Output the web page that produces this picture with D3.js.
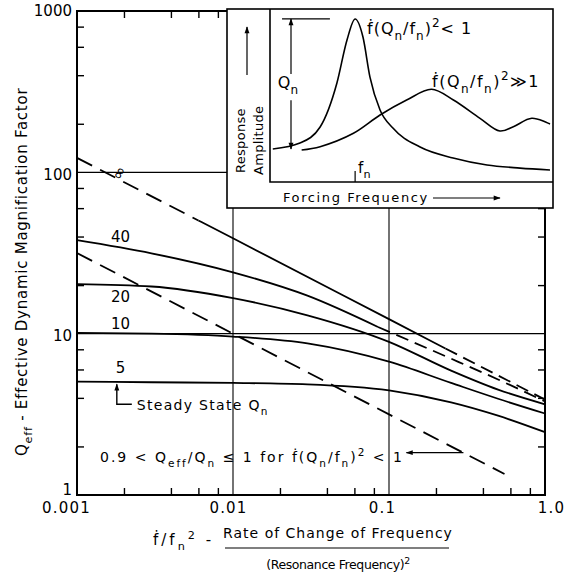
<!DOCTYPE html>
<html>
<head>
<meta charset="utf-8">
<script src="https://cdn.jsdelivr.net/npm/d3@7"></script>
<style>
  body { margin: 0; background: #fff; }
  svg { display: block; }
  text { font-family: "DejaVu Sans", sans-serif; fill: #000; }
</style>
</head>
<body>
<svg id="chart" width="565" height="586"></svg>
<script>
// ---- Data ----------------------------------------------------------------
// Sweep rate f'/fn^2 sample points and effective Q
const sweepRates = [0.001, 0.003, 0.01, 0.03, 0.1, 0.25, 0.5, 1.0];
const qeffQn5  = [5.05, 5.0, 4.95, 4.85, 4.45, 3.75, 3.1, 2.45];
const qeffQn10 = [10.1, 10.0, 9.6, 8.7, 6.7, 4.95, 3.95, 3.2];
const qeffQn20 = [20.3, 19.6, 16.6, 13.0, 8.9, 5.9, 4.5, 3.65];
// Qn = 40: solid portion, then the dashed extension toward the asymptote
const qn40SolidRates = [0.001, 0.003, 0.01, 0.03, 0.085];
const qeffQn40Solid  = [38.0, 31.5, 24.0, 17.2, 11.0];
const qn40DashRates  = [0.085, 0.25, 0.5, 1.0];
const qeffQn40Dash   = [11.0, 7.0, 5.2, 3.8];
const curveLabels = ["5", "10", "20", "40"];

// Infinite-Q asymptote: dashed / solid / dashed pieces
const infDashLeftRates  = [0.001, 0.006];
const infDashLeftQeff   = [123, 50.3];
const infSolidRates     = [0.006, 0.01, 0.1, 0.23];
const infSolidQeff      = [50.3, 39, 12.3, 8.1];
const infDashRightRates = [0.23, 1.0];
const infDashRightQeff  = [8.1, 3.9];

// f'(Qn/fn)^2 = 1 boundary
const boundRates = [0.001, 0.01, 0.1, 0.55];
const boundQeff  = [31.6, 10.0, 3.16, 1.35];

// Axis ticks
const xMajorTicks = [0.001, 0.01, 0.1, 1.0];
const xMajorLabels = ["0.001", "0.01", "0.1", "1.0"];
const xMinorTicks = [0.002, 0.004, 0.006, 0.008, 0.02, 0.04, 0.06, 0.08, 0.2, 0.4, 0.6, 0.8];
const yMajorTicks = [1, 10, 100, 1000];
const yMajorLabels = ["1", "10", "100", "1000"];
const yMinorTicks = [2, 4, 6, 8, 20, 40, 60, 80, 200, 400, 600, 800];

// Inset sketch: response amplitude vs forcing frequency (relative units)
const slowSweepFreq = [1, 10.7, 17.9, 23.9, 27.5, 30.4, 33.2, 35.7, 39.3, 43.9, 53.6, 65.4, 77.5, 89.3, 100];
const slowSweepAmp  = [19, 22.4, 31.6, 56.9, 81.6, 93.7, 83.3, 60.3, 41.4, 31, 20.1, 13.8, 9.8, 8, 6.9];
const fastSweepFreq = [11.3, 17.9, 29.8, 39.3, 48.8, 57.7, 65.5, 75, 82.1, 86.9, 93.5, 100];
const fastSweepAmp  = [18.4, 20.3, 28, 38.5, 47.1, 53.3, 47.1, 36.6, 29.3, 31.8, 36.6, 33.3];
const resonanceFreq = 30.4;

// ---- Setup ---------------------------------------------------------------
const svg = d3.select("#chart");
const x = d3.scaleLog().domain([0.001, 1]).range([77, 545]);
const y = d3.scaleLog().domain([1, 1000]).range([495, 11]);

const defs = svg.append("defs");
defs.append("marker").attr("id", "arr")
  .attr("viewBox", "0 0 10 10").attr("refX", 9).attr("refY", 5)
  .attr("markerWidth", 9).attr("markerHeight", 7).attr("orient", "auto-start-reverse")
  .attr("markerUnits", "userSpaceOnUse")
  .append("path").attr("d", "M0,1.5 L10,5 L0,8.5 Z").attr("fill", "#000");

// Rich text helper: parts = [[text, "n"|"sub"|"sup"], ...]
function rich(t, parts, size) {
  let shift = 0;
  parts.forEach(([s, mode]) => {
    const target = mode === "sub" ? size * 0.35 : mode === "sup" ? -size * 0.42 : 0;
    t.append("tspan").text(s)
      .attr("font-size", mode === "n" ? size : size * 0.75)
      .attr("dy", target - shift);
    shift = target;
  });
  return t;
}
const pairs = (rs, vs) => rs.map((r, i) => [r, vs[i]]);

// ---- Grid ----------------------------------------------------------------
const grid = svg.append("g").attr("stroke", "#000").attr("stroke-width", 1.1);
[10, 100].forEach(v => grid.append("line")
  .attr("x1", x(0.001)).attr("x2", x(1)).attr("y1", y(v)).attr("y2", y(v)));
[0.01, 0.1].forEach(v => grid.append("line")
  .attr("x1", x(v)).attr("x2", x(v)).attr("y1", y(1)).attr("y2", y(1000)));

// ---- Minor ticks on all four sides ----------------------------------------
function styleAxis(g) {
  g.select(".domain").remove();
  g.selectAll("line").attr("stroke", "#000").attr("stroke-width", 1.4);
}
svg.append("g").attr("transform", `translate(0,${y(1)})`)
  .call(d3.axisBottom(x).tickValues(xMinorTicks).tickSize(-7).tickFormat("")).call(styleAxis);
svg.append("g").attr("transform", `translate(0,${y(1000)})`)
  .call(d3.axisTop(x).tickValues(xMinorTicks).tickSize(-7).tickFormat("")).call(styleAxis);
svg.append("g").attr("transform", `translate(${x(0.001)},0)`)
  .call(d3.axisLeft(y).tickValues(yMinorTicks).tickSize(-7).tickFormat("")).call(styleAxis);
svg.append("g").attr("transform", `translate(${x(1)},0)`)
  .call(d3.axisRight(y).tickValues(yMinorTicks).tickSize(-7).tickFormat("")).call(styleAxis);

// Major tick labels
const xLabelShift = [-11, -5, -7, 6];
const xLab = svg.append("g").attr("transform", `translate(0,${y(1)})`)
  .call(d3.axisBottom(x).tickValues(xMajorTicks).tickSize(0).tickPadding(7)
    .tickFormat((d, i) => xMajorLabels[i]));
xLab.select(".domain").remove();
xLab.selectAll("text").attr("font-size", 15).attr("letter-spacing", 1.2)
  .attr("font-family", "DejaVu Sans").attr("dx", (d, i) => xLabelShift[i]);
const yLabelShift = [-5, 2, 2, 0];
const yLab = svg.append("g").attr("transform", `translate(${x(0.001)},0)`)
  .call(d3.axisLeft(y).tickValues(yMajorTicks).tickSize(0).tickPadding(5)
    .tickFormat((d, i) => yMajorLabels[i]));
yLab.select(".domain").remove();
yLab.selectAll("text").attr("font-size", 15).attr("font-family", "DejaVu Sans")
  .attr("transform", (d, i) => `translate(0,${yLabelShift[i]})`);

// ---- Curves --------------------------------------------------------------
const line = d3.line().x(d => x(d[0])).y(d => y(d[1])).curve(d3.curveMonotoneX);
const curves = svg.append("g").attr("fill", "none").attr("stroke", "#000").attr("stroke-width", 1.8);
[qeffQn5, qeffQn10, qeffQn20].forEach(vals => {
  curves.append("path").attr("d", line(pairs(sweepRates, vals)));
});
curves.append("path").attr("d", line(pairs(qn40SolidRates, qeffQn40Solid)));
curves.append("path").attr("stroke-dasharray", "13,7").attr("d", line(pairs(qn40DashRates, qeffQn40Dash)));
curves.append("path").attr("stroke-dasharray", "17,9").attr("d", line(pairs(infDashLeftRates, infDashLeftQeff)));
curves.append("path").attr("d", line(pairs(infSolidRates, infSolidQeff)));
curves.append("path").attr("stroke-dasharray", "13,7").attr("d", line(pairs(infDashRightRates, infDashRightQeff)));
curves.append("path").attr("stroke-dasharray", "17,9").attr("d", line(pairs(boundRates, boundQeff)));

// Curve labels
const labelAt = 0.0019;
const labelStart = [qeffQn5[0], qeffQn10[0], qeffQn20[0], qeffQn40Solid[0]];
const labelDy = [-9, -4, 18, 2];
labelStart.forEach((v, i) => {
  svg.append("text").attr("x", x(labelAt)).attr("y", y(v) + labelDy[i])
    .attr("text-anchor", "middle").attr("font-size", 15).text(curveLabels[i]);
});
svg.append("text")
  .attr("transform", `translate(${x(labelAt) + 3},${y(infDashLeftQeff[0]) + 18}) rotate(-60)`)
  .attr("text-anchor", "middle").attr("font-size", 16).text("∞");

// Steady-state pointer
const ssX = x(0.0018), ssY = y(qeffQn5[1]);
svg.append("path").attr("fill", "none").attr("stroke", "#000").attr("stroke-width", 1.4)
  .attr("marker-end", "url(#arr)")
  .attr("d", `M${ssX + 15},${ssY + 22} H${ssX} V${ssY + 2}`);
rich(svg.append("text").attr("x", ssX + 20).attr("y", ssY + 28).attr("letter-spacing", 1.3),
  [["Steady State Q", "n"], ["n", "sub"]], 14);

// Bound annotation
rich(svg.append("text").attr("x", 100).attr("y", 462).attr("letter-spacing", 2),
  [["0.9 < Q", "n"], ["eff", "sub"], ["/Q", "n"], ["n", "sub"], [" ≤ 1 for ḟ(Q", "n"], ["n", "sub"],
   ["/f", "n"], ["n", "sub"], [")", "n"], ["2", "sup"], [" < 1", "n"]], 14);
const bx = x(0.30), by = y(1.83);
svg.append("line").attr("x1", bx).attr("y1", by).attr("x2", bx - 57).attr("y2", by)
  .attr("stroke", "#000").attr("stroke-width", 1.4).attr("marker-end", "url(#arr)");

// ---- Frame ---------------------------------------------------------------
svg.append("rect").attr("x", x(0.001)).attr("y", y(1000))
  .attr("width", x(1) - x(0.001)).attr("height", y(1) - y(1000))
  .attr("fill", "none").attr("stroke", "#000").attr("stroke-width", 2);

// ---- Axis titles ----------------------------------------------------------
rich(svg.append("text").attr("transform", "translate(27,456) rotate(-90)").attr("letter-spacing", 0.75),
  [["Q", "n"], ["eff", "sub"], [" - Effective Dynamic Magnification Factor", "n"]], 15);

rich(svg.append("text").attr("x", 153).attr("y", 545).attr("letter-spacing", 3),
  [["ḟ/f", "n"], ["n", "sub"], ["2", "sup"], [" -", "n"]], 15);
svg.append("text").attr("x", 338).attr("y", 538).attr("text-anchor", "middle")
  .attr("font-size", 14).attr("letter-spacing", 1.0).text("Rate of Change of Frequency");
svg.append("line").attr("x1", 225).attr("x2", 449).attr("y1", 548).attr("y2", 548)
  .attr("stroke", "#000").attr("stroke-width", 1.2);
rich(svg.append("text").attr("x", 338).attr("y", 569).attr("text-anchor", "middle").attr("letter-spacing", -0.4),
  [["(Resonance Frequency)", "n"], ["2", "sup"]], 12.5);

// ---- Inset ---------------------------------------------------------------
const ix = d3.scaleLinear().domain([0, 100]).range([270, 550]);
const iy = d3.scaleLinear().domain([0, 100]).range([182, 8]);
const inset = svg.append("g");
inset.append("rect").attr("x", 227).attr("y", 9).attr("width", 326).attr("height", 199)
  .attr("fill", "#fff").attr("stroke", "#000").attr("stroke-width", 1.6);
inset.append("path").attr("fill", "none").attr("stroke", "#000").attr("stroke-width", 1.6)
  .attr("d", `M${ix(0)},9 V${iy(0)} H553`);

const iline = d3.line().x(d => ix(d[0])).y(d => iy(d[1]));
inset.append("path").attr("fill", "none").attr("stroke", "#000").attr("stroke-width", 1.6)
  .attr("d", iline.curve(d3.curveMonotoneX)(pairs(slowSweepFreq, slowSweepAmp)));
inset.append("path").attr("fill", "none").attr("stroke", "#000").attr("stroke-width", 1.6)
  .attr("d", iline.curve(d3.curveCatmullRom.alpha(0.5))(pairs(fastSweepFreq, fastSweepAmp)));

// Qn dimension arrow
const peakAmp = d3.max(slowSweepAmp), baseAmp = slowSweepAmp[0];
inset.append("line").attr("x1", ix(4.3)).attr("x2", ix(21.4)).attr("y1", iy(peakAmp)).attr("y2", iy(peakAmp))
  .attr("stroke", "#000").attr("stroke-width", 1.2);
inset.append("line").attr("x1", ix(7.5)).attr("x2", ix(7.5)).attr("y1", iy(62)).attr("y2", iy(peakAmp))
  .attr("stroke", "#000").attr("stroke-width", 1.2).attr("marker-end", "url(#arr)");
inset.append("line").attr("x1", ix(7.5)).attr("x2", ix(7.5)).attr("y1", iy(47)).attr("y2", iy(baseAmp))
  .attr("stroke", "#000").attr("stroke-width", 1.2).attr("marker-end", "url(#arr)");
rich(inset.append("text").attr("x", ix(2.8)).attr("y", 88), [["Q", "n"], ["n", "sub"]], 16);

// Resonance tick
inset.append("line").attr("x1", ix(resonanceFreq)).attr("x2", ix(resonanceFreq))
  .attr("y1", iy(0)).attr("y2", iy(0) - 11).attr("stroke", "#000").attr("stroke-width", 1.2);
rich(inset.append("text").attr("x", ix(resonanceFreq) + 3).attr("y", 173), [["f", "n"], ["n", "sub"]], 15);

// Curve captions
rich(inset.append("text").attr("x", 367).attr("y", 34).attr("letter-spacing", 1),
  [["ḟ(Q", "n"], ["n", "sub"], ["/f", "n"], ["n", "sub"], [")", "n"], ["2", "sup"], ["< 1", "n"]], 16);
rich(inset.append("text").attr("x", 432).attr("y", 87).attr("letter-spacing", 1.5),
  [["ḟ(Q", "n"], ["n", "sub"], ["/f", "n"], ["n", "sub"], [")", "n"], ["2", "sup"], ["≫1", "n"]], 16);

// Axis captions
inset.append("text").attr("transform", "translate(245,173) rotate(-90)").attr("font-size", 13).attr("letter-spacing", 0.3).text("Response");
inset.append("text").attr("transform", "translate(263,175) rotate(-90)").attr("font-size", 13).attr("letter-spacing", 0.3).text("Amplitude");
inset.append("line").attr("x1", 247).attr("x2", 247).attr("y1", 75).attr("y2", 27)
  .attr("stroke", "#000").attr("stroke-width", 1.2).attr("marker-end", "url(#arr)");
inset.append("text").attr("x", 283).attr("y", 202).attr("font-size", 13).attr("letter-spacing", 1.6).text("Forcing Frequency");
inset.append("line").attr("x1", 433).attr("x2", 500).attr("y1", 198).attr("y2", 198)
  .attr("stroke", "#000").attr("stroke-width", 1.2).attr("marker-end", "url(#arr)");
</script>
</body>
</html>
